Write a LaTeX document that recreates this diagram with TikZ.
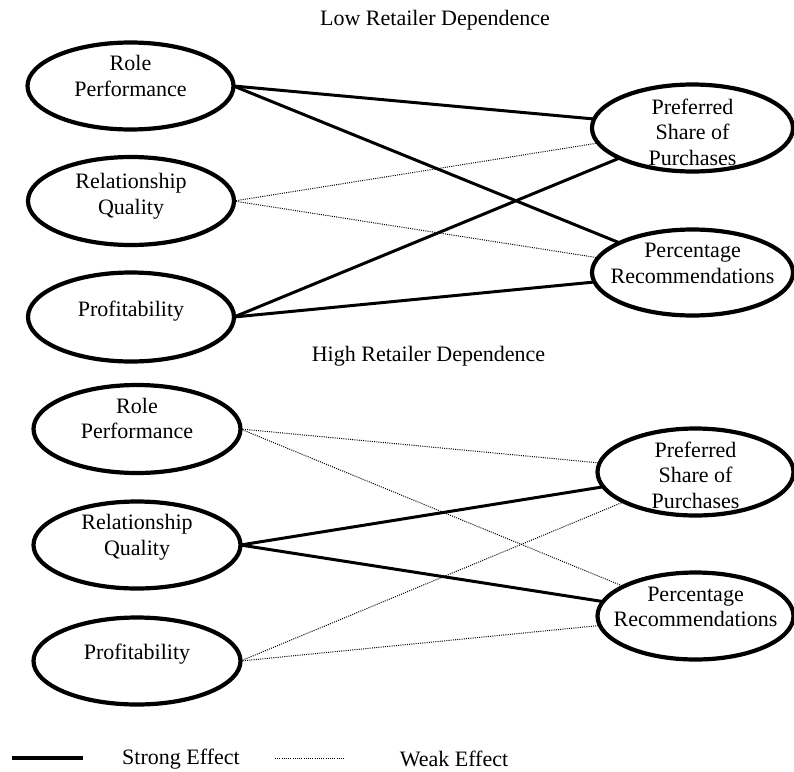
\documentclass[tikz,border=0pt]{standalone}
\usepackage{fontspec}
\setmainfont{Liberation Serif}
\usetikzlibrary{shapes.geometric}
\begin{document}
\begin{tikzpicture}[x=1pt,y=-1pt,
  ell/.style={draw, ellipse, line width=4.2pt, inner sep=0pt, outer sep=0pt},
  lbl/.style={font=\fontsize{22}{25.5}\selectfont, align=center, inner sep=0pt},
  strong/.style={line width=3pt},
  weak/.style={line width=1pt, dash pattern=on 1pt off 1.2pt},
  ttl/.style={font=\fontsize{22}{25.5}\selectfont, inner sep=0pt}]
\useasboundingbox (0,0) rectangle (794,771);
% titles
\node[ttl] (t1) at (435,20) {Low Retailer Dependence};
\node[ttl] (t2) at (428.5,356) {High Retailer Dependence};
% upper ellipses
\node[ell, minimum width=206pt, minimum height=87pt] (urp) at (130.5,86) {};
\node[ell, minimum width=206pt, minimum height=88pt] (urq) at (131,201) {};
\node[ell, minimum width=206pt, minimum height=89pt] (upr) at (131,317) {};
\node[ell, minimum width=201pt, minimum height=87pt] (upf) at (692.5,128) {};
\node[ell, minimum width=201pt, minimum height=86pt] (upc) at (692.5,272.5) {};
% lower ellipses
\node[ell, minimum width=207pt, minimum height=88pt] (lrp) at (137,429) {};
\node[ell, minimum width=207pt, minimum height=87pt] (lrq) at (137,545) {};
\node[ell, minimum width=207pt, minimum height=87pt] (lpr) at (137,661) {};
\node[ell, minimum width=196pt, minimum height=87pt] (lpf) at (695.5,472) {};
\node[ell, minimum width=196pt, minimum height=87pt] (lpc) at (695.5,616) {};
% labels
\node[lbl] (turp) at (130.5,76) {Role\\Performance};
\node[lbl] (turq) at (131,196) {Relationship\\Quality};
\node[lbl] (tupr) at (131,311) {Profitability};
\node[lbl] (tupf) at (692.5,132) {Preferred\\Share of\\Purchases};
\node[lbl] (tupc) at (692.5,263.5) {Percentage\\Recommendations};
\node[lbl] (tlrp) at (137,418.5) {Role\\Performance};
\node[lbl] (tlrq) at (137,537) {Relationship\\Quality};
\node[lbl] (tlpr) at (137,654) {Profitability};
\node[lbl] (tlpf) at (695.5,475) {Preferred\\Share of\\Purchases};
\node[lbl] (tlpc) at (695.5,607) {Percentage\\Recommendations};
% upper connectors
\draw[strong] (urp.east) -- (upf);
\draw[strong] (urp.east) -- (upc);
\draw[weak] (urq.east) -- (upf);
\draw[weak] (urq.east) -- (upc);
\draw[strong] (upr.east) -- (upf);
\draw[strong] (upr.east) -- (upc);
% lower connectors
\draw[weak] (lrp.east) -- (lpf);
\draw[weak] (lrp.east) -- (lpc);
\draw[strong] (lrq.east) -- (lpf);
\draw[strong] (lrq.east) -- (lpc);
\draw[weak] (lpr.east) -- (lpf);
\draw[weak] (lpr.east) -- (lpc);
% legend
\coordinate (s1) at (12,758);
\coordinate (s2) at (83,758);
\coordinate (w1) at (275,758);
\coordinate (w2) at (345,758);
\draw[strong, line width=3.3pt] (s1) -- (s2);
\draw[weak] (w1) -- (w2);
\node[ttl] (ls) at (181,759) {Strong Effect};
\node[ttl] (lw) at (454,759) {Weak Effect};
\end{tikzpicture}
\end{document}
